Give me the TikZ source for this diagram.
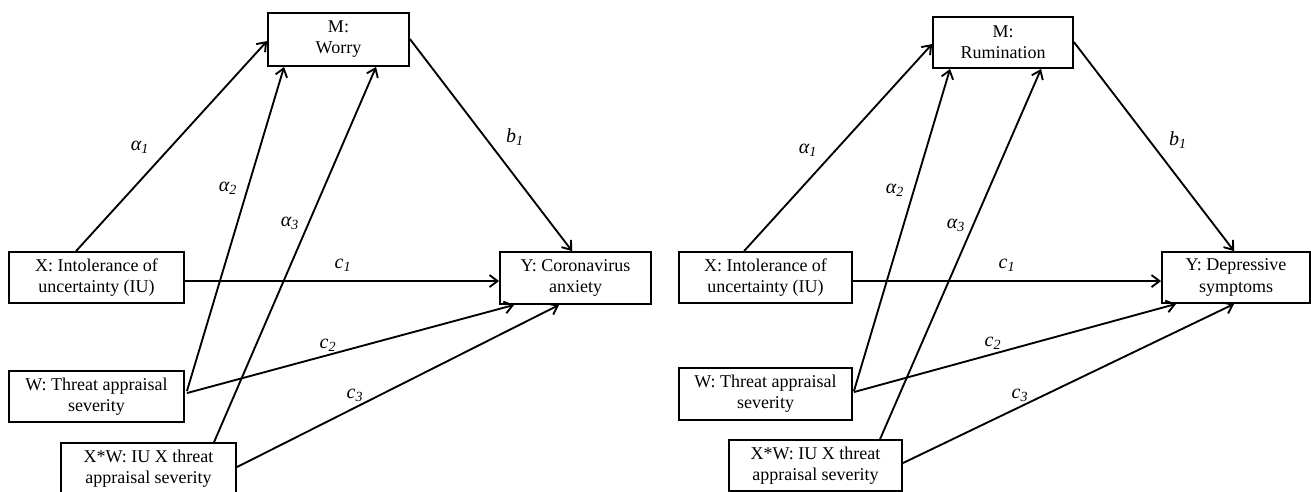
\documentclass[tikz,border=0pt]{standalone}
\usepackage{fontspec}
\setmainfont{Liberation Serif}
\usetikzlibrary{arrows.meta,calc}
\begin{document}
\begin{tikzpicture}[x=0.75pt,y=-0.75pt,
  box/.style={draw,line width=1.4pt,align=center,inner sep=0pt,
    font=\fontsize{13.5}{15.8}\selectfont},
  arr/.style={line width=1.4pt,-{Straight Barb[length=6pt,width=9pt,line width=1.4pt]}},
  lab/.style={font=\fontsize{15}{17}\selectfont\itshape,inner sep=0pt}]
\useasboundingbox (0,0) rectangle (1311,492);
% ---------- left panel ----------
\node[box,minimum width=141*0.75pt,minimum height=53*0.75pt] (M1) at (338.5,39.5) {M:\\Worry};
\node[box,minimum width=175*0.75pt,minimum height=51*0.75pt] (X1) at (96.5,277.5) {X: Intolerance of\\uncertainty (IU)};
\node[box,minimum width=175*0.75pt,minimum height=51*0.75pt] (W1) at (96.5,396.5) {W: Threat appraisal\\severity};
\node[box,minimum width=175*0.75pt,minimum height=51*0.75pt] (XW1) at (148.5,468.5) {X*W: IU X threat\\appraisal severity};
\node[box,minimum width=151*0.75pt,minimum height=52*0.75pt] (Y1) at (575.5,278) {Y: Coronavirus\\anxiety};
\draw[arr] ($(X1.north west)+(68,0)$) -- ($(M1.north west)+(0,29)$);
\draw[arr] ($(W1.north east)+(2,21)$) -- ($(M1.south west)+(17,0)$);
\draw[arr] ($(W1.north east)+(2,23)$) -- ($(Y1.south west)+(15,0)$);
\draw[arr] ($(XW1.north west)+(154,0)$) -- ($(M1.south west)+(109,0)$);
\draw[arr] ($(XW1.north east)+(0,25)$) -- ($(Y1.south west)+(60,0)$);
\draw[arr] ($(X1.north east)+(0,30)$) -- ($(Y1.north west)+(0,30)$);
\draw[arr] ($(M1.north east)+(0,27)$) -- ($(Y1.north west)+(73,0)$);
\node[lab] (la1) at (140,147) {α\textsubscript{1}};
\node[lab] (la2) at (228,188) {α\textsubscript{2}};
\node[lab] (la3) at (290,223) {α\textsubscript{3}};
\node[lab] (lb1) at (515,137) {b\textsubscript{1}};
\node[lab] (lc1) at (343,265) {c\textsubscript{1}};
\node[lab] (lc2) at (328,345) {c\textsubscript{2}};
\node[lab] (lc3) at (355,395) {c\textsubscript{3}};
% ---------- right panel ----------
\node[box,minimum width=140*0.75pt,minimum height=51*0.75pt] (M2) at (1003,42.5) {M:\\Rumination};
\node[box,minimum width=173*0.75pt,minimum height=51*0.75pt] (X2) at (765.5,277.5) {X: Intolerance of\\uncertainty (IU)};
\node[box,minimum width=173*0.75pt,minimum height=52*0.75pt] (W2) at (765.5,394) {W: Threat appraisal\\severity};
\node[box,minimum width=173*0.75pt,minimum height=51*0.75pt] (XW2) at (815.5,465.5) {X*W: IU X threat\\appraisal severity};
\node[box,minimum width=148*0.75pt,minimum height=51*0.75pt] (Y2) at (1236,277.5) {Y: Depressive\\symptoms};
\draw[arr] ($(X2.north west)+(66,0)$) -- ($(M2.north west)+(0,28)$);
\draw[arr] ($(W2.north east)+(1,24)$) -- ($(M2.south west)+(18,0)$);
\draw[arr] ($(W2.north east)+(1,25)$) -- ($(Y2.south west)+(15,0)$);
\draw[arr] ($(XW2.north west)+(152,0)$) -- ($(M2.south west)+(109,0)$);
\draw[arr] ($(XW2.north east)+(0,24)$) -- ($(Y2.south west)+(73,0)$);
\draw[arr] ($(X2.north east)+(0,30)$) -- ($(Y2.north west)+(0,30)$);
\draw[arr] ($(M2.north east)+(0,26)$) -- ($(Y2.north west)+(73,0)$);
\node[lab] (ra1) at (808,150) {α\textsubscript{1}};
\node[lab] (ra2) at (895,190) {α\textsubscript{2}};
\node[lab] (ra3) at (956,225) {α\textsubscript{3}};
\node[lab] (rb1) at (1178,140) {b\textsubscript{1}};
\node[lab] (rc1) at (1007,265) {c\textsubscript{1}};
\node[lab] (rc2) at (993,343) {c\textsubscript{2}};
\node[lab] (rc3) at (1020,395) {c\textsubscript{3}};
\end{tikzpicture}
\end{document}
